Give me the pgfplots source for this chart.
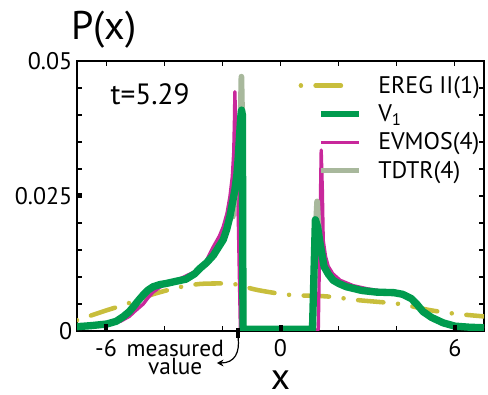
\documentclass[border=0pt]{standalone}
\usepackage{fontspec}
\setmainfont{PT Sans}
\usepackage{pgfplots}
\pgfplotsset{compat=1.18}
\usetikzlibrary{arrows.meta}
\definecolor{ereg}{RGB}{200,190,60}
\definecolor{vone}{RGB}{0,155,78}
\definecolor{evmos}{RGB}{200,40,155}
\definecolor{tdtr}{RGB}{168,184,156}
\pgfplotsset{
  ereglegend/.style={legend image code/.code={
    \draw[##1, draw opacity=0, solid] (0pt,0) -- (43.5pt,0);
    \draw[##1] (0pt,0) -- (41pt,0);}},
  linelegend/.style={legend image code/.code={
    \draw[##1, draw opacity=0] (0pt,0) -- (43.5pt,0);
    \draw[##1] (15pt,0) -- (43.5pt,0);}},
}
\begin{document}
\begin{tikzpicture}
\useasboundingbox (-57.75pt,-48pt) rectangle (308.25pt,248.25pt);
\begin{axis}[
  scale only axis, width=305.25pt, height=202.5pt,
  at={(0,0)}, anchor=south west,
  xmin=-7, xmax=7, ymin=0, ymax=0.05,
  axis line style={line width=1pt},
  tick align=inside,
  major tick length=3.75pt, minor tick length=3.75pt,
  tick style={line width=0.8pt, black},
  xtick={-6,-4,-2,0,2,4,6},
  xticklabels={-6,,,0,,,6},
  ytick={0,0.025,0.05},
  yticklabels={0,0.025,0.05},
  minor ytick={0.005,0.01,0.015,0.02,0.03,0.035,0.04,0.045},
  scaled y ticks=false,
  /pgf/number format/assume math mode=true,
  ticklabel style={font=\fontsize{18}{18}\selectfont},
  xticklabel style={yshift=-3pt},
  clip mode=individual,
  legend cell align=left,
  legend style={at={(axis description cs:0.997,0.955)}, anchor=north east,
    draw=none, fill=none, font=\fontsize{18}{18}\selectfont,
    inner sep=0pt, row sep=3pt,
    /tikz/every odd column/.append style={column sep=10pt}},
]
\addlegendimage{ereg, line width=3.4pt, line cap=round,
  dash pattern=on 0.01pt off 11pt on 19pt off 11pt, ereglegend}
\addlegendentry{EREG II(1)}
\addlegendimage{vone, line width=5pt, linelegend}
\addlegendentry{V\textsubscript{1}}
\addlegendimage{evmos, line width=2.5pt, linelegend}
\addlegendentry{EVMOS(4)}
\addlegendimage{tdtr, line width=4.3pt, linelegend}
\addlegendentry{TDTR(4)}

% EREG II(1)
\addplot[ereg, line width=3.4pt, line cap=round, smooth, forget plot,
  dash pattern=on 0.01pt off 11pt on 19pt off 11pt] coordinates {
(-7,0.0020) (-6.5,0.0029) (-6,0.0038) (-5.3,0.0050) (-4.5,0.0066) (-4,0.0074)
(-3.4,0.0082) (-2.8,0.0087) (-2.2,0.0088) (-1.6,0.0087) (-0.8,0.0076)
(0.3,0.0067) (1.6,0.0064) (2.7,0.0057) (4.1,0.0050) (5.1,0.0039) (6,0.0032) (7,0.0027)
};
% EVMOS(4)
\addplot[evmos, line width=2.5pt, line join=round, forget plot] coordinates {
(-7,0.0007) (-6.5,0.0009) (-6,0.0012) (-5.5,0.0018) (-5.2,0.0027) (-5,0.0037)
(-4.72,0.0050) (-4.55,0.0062) (-4.38,0.0072) (-4.15,0.0081) (-3.93,0.0087)
(-3.6,0.0093) (-3.25,0.0102) (-2.9,0.0111) (-2.63,0.0122) (-2.31,0.0156)
(-2.1,0.0176) (-1.97,0.0193) (-1.84,0.0218) (-1.74,0.0249) (-1.66,0.0285)
(-1.61,0.0330) (-1.585,0.0390) (-1.57,0.0443) (-1.45,0.0200) (-1.38,0.0002)
(1.30,0.0002) (1.36,0.0200) (1.40,0.0335) (1.44,0.0260) (1.47,0.0168)
(1.55,0.0138) (1.64,0.0120) (1.8,0.0106) (2.05,0.0094) (2.5,0.0084)
(3.0,0.0078) (3.5,0.0074) (3.9,0.0072) (4.2,0.0068) (4.5,0.0059)
(4.9,0.0037) (5.3,0.0021) (5.7,0.0012) (6.2,0.0008) (7,0.0005)
};
% TDTR(4)
\addplot[tdtr, line width=4.3pt, line join=round, line cap=round, forget plot] coordinates {
(-1.64,0.0212) (-1.52,0.0280) (-1.43,0.0340) (-1.37,0.0400) (-1.345,0.0471)
(-1.32,0.0400) (-1.28,0.0003) (1.10,0.0003) (1.22,0.0200) (1.26,0.0240)
(1.30,0.0200) (1.36,0.0163)
};
% V1
\addplot[vone, line width=5.5pt, line join=round, forget plot] coordinates {
(-7,0.0008) (-6.5,0.0010) (-5.97,0.0013) (-5.65,0.0018) (-5.4,0.0027)
(-5.2,0.0036) (-5.06,0.0045) (-4.88,0.0057) (-4.72,0.0067) (-4.55,0.0076)
(-4.38,0.0082) (-4.15,0.0086) (-3.93,0.0088) (-3.6,0.0092) (-3.25,0.0096)
(-2.95,0.0106) (-2.77,0.0116) (-2.55,0.0126) (-2.31,0.0140) (-2.1,0.0158)
(-1.97,0.0169) (-1.85,0.0188) (-1.74,0.0212) (-1.65,0.0238) (-1.57,0.0261)
(-1.50,0.0290) (-1.46,0.0317) (-1.41,0.0360) (-1.37,0.0395) (-1.34,0.0409)
(-1.31,0.0400) (-1.29,0.0003) (1.10,0.0003) (1.20,0.0206) (1.28,0.0192)
(1.36,0.0163) (1.5,0.0119) (1.65,0.0105) (1.81,0.0094) (2.0,0.0088)
(2.26,0.0082) (2.8,0.0075) (3.3,0.0072) (3.9,0.0071) (4.2,0.0068)
(4.5,0.0060) (4.7,0.0049) (4.9,0.0036) (5.2,0.0025) (5.6,0.0015)
(6.0,0.0009) (6.5,0.0007) (7,0.0006)
};

% tick squares
\draw[line width=3pt] (axis cs:-6,0) -- ([yshift=5pt]axis cs:-6,0);
\draw[line width=3pt] (axis cs:0,0) -- ([yshift=4.5pt]axis cs:0,0);
\draw[line width=3pt] (axis cs:6,0) -- ([yshift=4.5pt]axis cs:6,0);
\draw[line width=3pt] ([yshift=2pt]axis cs:-1.47,0) -- ([yshift=-5.5pt]axis cs:-1.47,0);
\draw[line width=3.75pt] (axis cs:-7,0.025) -- ([xshift=3.75pt]axis cs:-7,0.025);

% measured value arrow
\draw[line width=0.9pt, -{Stealth[length=5pt,width=5pt]}]
  ([shift={(0.3pt,-5pt)}]axis cs:-1.47,0) .. controls ([shift={(1.5pt,-16pt)}]axis cs:-1.47,0)
  and ([shift={(-2pt,-24pt)}]axis cs:-1.47,0) .. ([shift={(-15.75pt,-24pt)}]axis cs:-1.47,0);
\node[align=center, anchor=north, inner sep=0pt, font=\fontsize{17.5}{13.5}\selectfont]
  at ([yshift=-6.5pt]axis cs:-3.62,0) {measured\\value};

\node[anchor=base west, inner sep=0pt, font=\fontsize{22}{22}\selectfont]
  at (axis cs:-5.85,0.0419) {t=5.29};

\node[anchor=base west, inner sep=0pt, font=\fontsize{30}{30}\selectfont]
  at ([shift={(-4.5pt,15.75pt)}]axis description cs:0,1) {P(x)};
\node[anchor=base, inner sep=0pt, font=\fontsize{28}{28}\selectfont]
  at ([yshift=-43.5pt]axis description cs:0.5,0) {x};
\end{axis}
\end{tikzpicture}
\end{document}
